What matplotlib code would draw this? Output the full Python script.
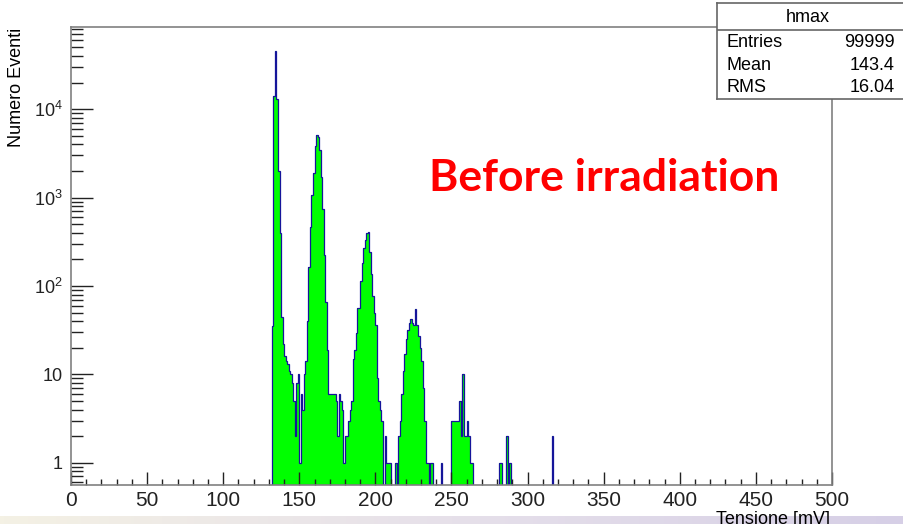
import numpy as np
import matplotlib.pyplot as plt
from matplotlib.ticker import FixedLocator, MultipleLocator, LogLocator, NullFormatter
from matplotlib.colors import LinearSegmentedColormap

plt.rcParams['font.family'] = ['Liberation Sans', 'DejaVu Sans']
plt.rcParams['mathtext.fontset'] = 'custom'
plt.rcParams['mathtext.rm'] = 'Liberation Sans'
plt.rcParams['mathtext.it'] = 'Liberation Sans:italic'

# hmax: counts per 1 mV bin, starting at 132 mV
bin_lo = 132
counts = [
    35, 14000, 45000, 13000, 2000, 400, 44, 22, 16, 14,          # 132-141
    13, 11, 10, 8, 5, 2, 8, 10, 1, 6,                            # 142-151
    4, 10, 14, 40, 165, 460, 1060, 1900, 3800, 5080,             # 152-161
    4900, 3450, 1720, 735, 224, 66, 19, 6, 6, 6,                 # 162-171
    6, 6, 5, 2, 6, 5, 4, 1, 2, 2,                                # 172-181
    3, 4, 5, 15, 19, 29, 56, 56, 115, 180,                       # 182-191
    267, 330, 394, 410, 240, 137, 76, 50, 36, 9,                 # 192-201
    5, 4, 3, 0, 2, 1, 1, 1, 0, 0,                                # 202-211
    0, 1, 0, 2, 3, 6, 11, 17, 25, 32,                            # 212-221
    38, 42, 38, 36, 55, 36, 27, 20, 14, 7,                       # 222-231
    3, 1, 1, 0, 1, 1, 0, 0, 0, 0,                                # 232-241
    0, 1, 0, 0, 0, 0, 0, 0, 3, 3,                                # 242-251
    3, 3, 3, 5, 2, 10, 2, 2, 3, 2,                               # 252-261
    1, 1,                                                        # 262-263
]
tail_bins = [281, 282, 286, 288, 316]
tail_counts = [1, 1, 2, 1, 2]

stat_names = ['Entries', 'Mean', 'RMS']
stat_values = ['99999', '143.4', '16.04']

W, H = 904, 524
fig = plt.figure(figsize=(W / 100, H / 100), dpi=100)


def box(x0, y0, x1, y1):
    # pixel box (top-left origin) -> figure fraction rect
    return [x0 / W, 1 - y1 / H, (x1 - x0) / W, (y1 - y0) / H]


# light slide band along the bottom edge
band = fig.add_axes(box(0, 516, W, H), zorder=-5)
cmap = LinearSegmentedColormap.from_list('band', ['#f4f1e4', '#e6e0ea', '#d6cfe6'])
band.imshow(np.linspace(0, 1, 256)[None, :], aspect='auto', cmap=cmap,
            extent=[0, 1, 0, 1])
band.axis('off')

ax = fig.add_axes(box(71, 27, 832, 485))

edges = np.arange(0, 501)
hist = np.zeros(500)
hist[bin_lo:bin_lo + len(counts)] = counts
hist[tail_bins] = tail_counts

ax.stairs(hist, edges, fill=True, color='#00ff00', baseline=0.01, lw=0)
ax.stairs(hist, edges, baseline=0.01, color='#15159a', lw=0.9)

ax.set_yscale('log')
ax.set_xlim(0, 500)
ax.set_ylim(0.56, 8.5e4)

ax.yaxis.set_major_locator(FixedLocator([1, 10, 100, 1000, 10000]))
ax.set_yticklabels(['1', '10', r'$10^{2}$', r'$10^{3}$', r'$10^{4}$'])
ax.yaxis.set_minor_locator(LogLocator(base=10, subs=np.arange(2, 10), numticks=20))
ax.yaxis.set_minor_formatter(NullFormatter())
ax.xaxis.set_major_locator(MultipleLocator(50))
ax.xaxis.set_minor_locator(MultipleLocator(10))

ax.tick_params(axis='both', which='both', direction='in', colors='#222222',
               width=1, top=False, right=False, labelsize=15)
ax.tick_params(axis='y', which='major', length=16, pad=6, labelsize=13)
ax.tick_params(axis='y', which='minor', length=8.5)
ax.tick_params(axis='x', which='major', length=9.5, pad=4)
ax.tick_params(axis='x', which='minor', length=4.5)
for s in ax.spines.values():
    s.set_color('#808080')
    s.set_linewidth(1.2)

fig.text(17 / W, 1 - 28 / H, 'Numero Eventi', rotation=90, ha='center', va='top',
         fontsize=13)
fig.text(830 / W, 1 - 511 / H, 'Tensione [mV]', ha='right', va='top', fontsize=13)

ax.text(0.70, 0.67, 'Before irradiation', transform=ax.transAxes, ha='center',
        va='center', color='#ff0000', fontsize=32, fontweight='bold',
        family=['Lato', 'DejaVu Sans'])

# statistics box
st = fig.add_axes(box(717, 3, 910, 99))
st.set_xlim(717, 910)
st.set_ylim(99, 3)
st.set_xticks([])
st.set_yticks([])
for s in st.spines.values():
    s.set_color('#666666')
    s.set_linewidth(1.2)
st.axhline(30, color='#666666', lw=1.2)
st.text(808, 17, 'hmax', ha='center', va='center', fontsize=13)
for i, (name, val) in enumerate(zip(stat_names, stat_values)):
    y = 42.5 + 22.5 * i
    st.text(727, y, name, ha='left', va='center', fontsize=13)
    st.text(895, y, val, ha='right', va='center', fontsize=13)

fig.savefig('out.png', dpi=100)
